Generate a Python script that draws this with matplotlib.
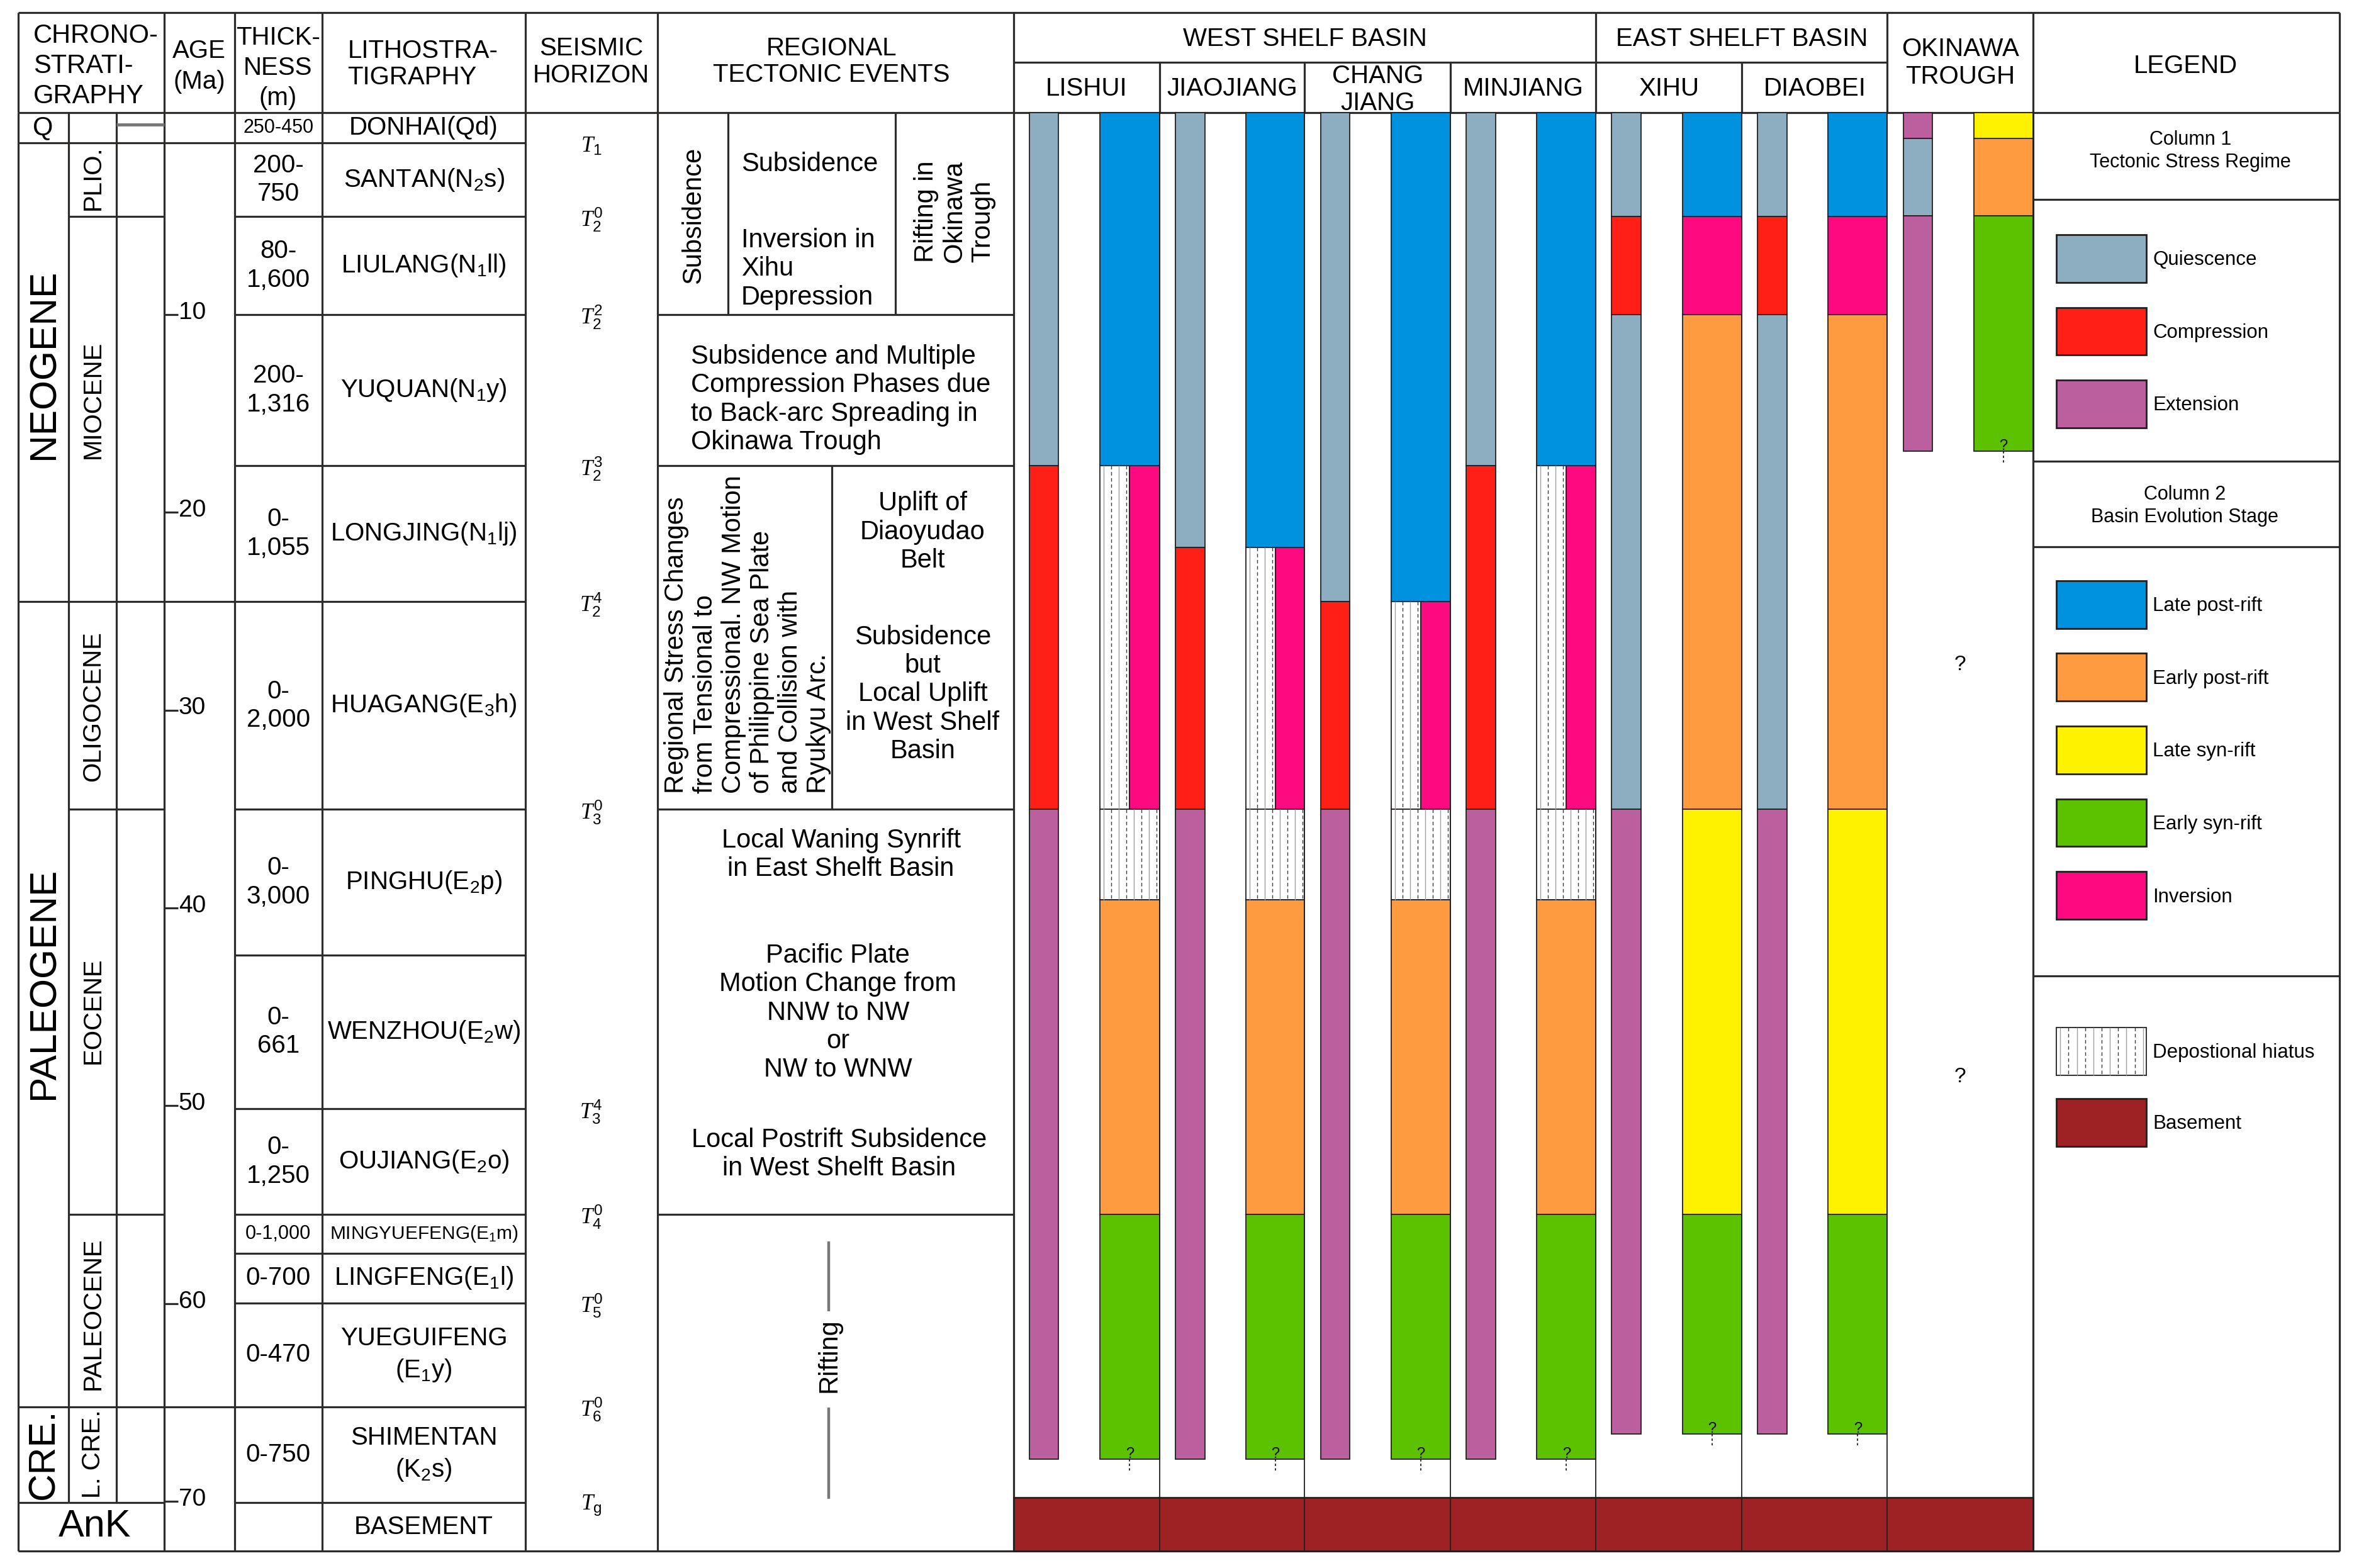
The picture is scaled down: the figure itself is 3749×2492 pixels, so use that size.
import numpy as np
import matplotlib.pyplot as plt

plt.rcParams['font.family'] = ['Liberation Sans', 'DejaVu Sans']
plt.rcParams['mathtext.fontset'] = 'custom'
plt.rcParams['mathtext.rm'] = 'Liberation Sans'
plt.rcParams['mathtext.it'] = 'Liberation Serif:italic'
plt.rcParams['mathtext.default'] = 'regular'

# ---- chart data (ages in Ma) ----
top_age = -0.2
base_age = 72.5

periods = ['Q', 'NEOGENE', 'PALEOGENE', 'CRE.']
period_tops = [-0.2, 1.33, 24.52, 65.21]
period_label_ages = [0.56, 12.5, 43.8, 67.6]

epochs = ['', 'PLIO.', 'MIOCENE', 'OLIGOCENE', 'EOCENE', 'PALEOCENE', 'L. CRE.']
epoch_tops = [-0.2, 1.33, 5.06, 24.52, 35.02, 55.48, 65.21]
epoch_label_ages = [0.56, 3.1, 14.3, 29.8, 45.2, 60.5, 67.6]

ank_top = 70.06
age_ticks = [10, 20, 30, 40, 50, 60, 70]

formations = ['DONHAI(Qd)', 'SANTAN(N$_2$s)', 'LIULANG(N$_1$ll)', 'YUQUAN(N$_1$y)',
              'LONGJING(N$_1$lj)', 'HUAGANG(E$_3$h)', 'PINGHU(E$_2$p)', 'WENZHOU(E$_2$w)',
              'OUJIANG(E$_2$o)', 'MINGYUEFENG(E$_1$m)', 'LINGFENG(E$_1$l)',
              'YUEGUIFENG\n(E$_1$y)', 'SHIMENTAN\n(K$_2$s)', 'BASEMENT']
formation_tops = [-0.2, 1.33, 5.06, 10.0, 17.64, 24.52, 35.02, 42.37, 50.14,
                  55.48, 57.45, 59.96, 65.21, 70.06]
thickness = ['250-450', '200-\n750', '80-\n1,600', '200-\n1,316', '0-\n1,055', '0-\n2,000',
             '0-\n3,000', '0-\n661', '0-\n1,250', '0-1,000', '0-700', '0-470', '0-750', '']

horizons = [r'$\mathit{T}_1$', r'$\mathit{T}_2^0$', r'$\mathit{T}_2^2$', r'$\mathit{T}_2^3$',
            r'$\mathit{T}_2^4$', r'$\mathit{T}_3^0$', r'$\mathit{T}_3^4$', r'$\mathit{T}_4^0$',
            r'$\mathit{T}_5^0$', r'$\mathit{T}_6^0$', r'$\mathit{T}_g$']
horizon_ages = [1.33, 5.06, 10.0, 17.64, 24.52, 35.02, 50.14, 55.48, 59.96, 65.21, 70.06]

tectonic_rows = [10.0, 17.64, 35.02, 55.48]

basins = ['LISHUI', 'JIAOJIANG', 'CHANG\nJIANG', 'MINJIANG', 'XIHU', 'DIAOBEI', 'OKINAWA\nTROUGH']

# column 1: tectonic stress regime  (Q quiescence, C compression, E extension)
lishui_stress = [(-0.2, 17.64, 'Q'), (17.64, 35.02, 'C'), (35.02, 67.87, 'E')]
jiaojiang_stress = [(-0.2, 21.76, 'Q'), (21.76, 35.02, 'C'), (35.02, 67.87, 'E')]
changjiang_stress = [(-0.2, 24.52, 'Q'), (24.52, 35.02, 'C'), (35.02, 67.87, 'E')]
minjiang_stress = [(-0.2, 17.64, 'Q'), (17.64, 35.02, 'C'), (35.02, 67.87, 'E')]
xihu_stress = [(-0.2, 5.06, 'Q'), (5.06, 10.0, 'C'), (10.0, 35.02, 'Q'), (35.02, 66.58, 'E')]
diaobei_stress = [(-0.2, 5.06, 'Q'), (5.06, 10.0, 'C'), (10.0, 35.02, 'Q'), (35.02, 66.58, 'E')]
okinawa_stress = [(-0.2, 1.1, 'E'), (1.1, 5.0, 'Q'), (5.0, 16.9, 'E')]

# column 2: basin evolution stage
lishui_stage = [(-0.2, 17.64, 'LPR'), (17.64, 35.02, 'HIA/INV'), (35.02, 39.58, 'HIA'),
                (39.58, 55.48, 'EPR'), (55.48, 67.87, 'ESR')]
jiaojiang_stage = [(-0.2, 21.76, 'LPR'), (21.76, 35.02, 'HIA/INV'), (35.02, 39.58, 'HIA'),
                   (39.58, 55.48, 'EPR'), (55.48, 67.87, 'ESR')]
changjiang_stage = [(-0.2, 24.52, 'LPR'), (24.52, 35.02, 'HIA/INV'), (35.02, 39.58, 'HIA'),
                    (39.58, 55.48, 'EPR'), (55.48, 67.87, 'ESR')]
minjiang_stage = [(-0.2, 17.64, 'LPR'), (17.64, 35.02, 'HIA/INV'), (35.02, 39.58, 'HIA'),
                  (39.58, 55.48, 'EPR'), (55.48, 67.87, 'ESR')]
xihu_stage = [(-0.2, 5.06, 'LPR'), (5.06, 10.0, 'INV'), (10.0, 35.02, 'EPR'),
              (35.02, 55.48, 'LSR'), (55.48, 66.58, 'ESR')]
diaobei_stage = [(-0.2, 5.06, 'LPR'), (5.06, 10.0, 'INV'), (10.0, 35.02, 'EPR'),
                 (35.02, 55.48, 'LSR'), (55.48, 66.58, 'ESR')]
okinawa_stage = [(-0.2, 1.1, 'LSR'), (1.1, 5.0, 'EPR'), (5.0, 16.9, 'ESR')]

stress_cols = [lishui_stress, jiaojiang_stress, changjiang_stress, minjiang_stress,
               xihu_stress, diaobei_stress, okinawa_stress]
stage_cols = [lishui_stage, jiaojiang_stage, changjiang_stage, minjiang_stage,
              xihu_stage, diaobei_stage, okinawa_stage]

basement_top = 69.8
okinawa_unknown_ages = [27.7, 48.55]

stress_names = ['Quiescence', 'Compression', 'Extension']
stress_codes = ['Q', 'C', 'E']
stage_names = ['Late post-rift', 'Early post-rift', 'Late syn-rift', 'Early syn-rift', 'Inversion']
stage_codes = ['LPR', 'EPR', 'LSR', 'ESR', 'INV']

colors = {'Q': '#8caec0', 'C': '#fe2016', 'E': '#bc5f9e',
          'LPR': '#0092df', 'EPR': '#fe9b40', 'LSR': '#fff200', 'ESR': '#5cc200',
          'INV': '#fe0a80', 'BASE': '#9e2224'}

# ---- layout (page units: picture width 1568) ----
W, H = 1568.0, 1042.2
Y0, K = 77.5, 13.15            # page y of 0 Ma and page units per Ma
LC = '#2e2b2b'
EDGE = '#231f20'
LW = 2.3

x_left, x_right = 12.3, 1555.0
y_top, y_head, y_mid = 8.4, 74.7, 41.5
chrono_x = [12.3, 45.5, 77.2, 109.1]
col_x = [109.1, 155.8, 214.2, 349.2, 437.0, 673.6]
basin_edges = [673.6, 770.8, 867.2, 964.0, 1060.8, 1157.7, 1254.5, 1351.4]


def ls(px, pt):
    # line spacing factor giving a baseline distance of px (page units) at pt
    return px * 2.391 / (0.885 * pt * 100 / 72)


def hiatus(axis, x0, x1, y0, y1, step=5.0):
    axis.bar(x0, y1 - y0, width=x1 - x0, bottom=y0, align='edge', color='white',
             edgecolor=EDGE, linewidth=1.3, zorder=2)
    xs = np.arange(x0 + step / 2, x1 - 1.0, step)
    for j, xv in enumerate(xs):
        if j % 2 == 0:
            axis.vlines(xv, y0, y1, color='#a0a0a0', lw=1.0, zorder=2.5)
        else:
            axis.vlines(xv, y0, y1, color='#3a3a3a', lw=1.0, linestyles=(0, (4, 3)), zorder=2.5)


fig = plt.figure(figsize=(37.49, 24.92), dpi=100)
page = fig.add_axes([0, 0, 1, 1])
page.set_xlim(0, W)
page.set_ylim(H, 0)
page.axis('off')

ax = fig.add_axes([0, 0, 1, 1])
ax.set_xlim(0, W)
ax.set_ylim((H - Y0) / K, -Y0 / K)
ax.axis('off')

# ---- header ----
page.hlines([y_top, y_head], x_left, x_right, color=LC, lw=LW)
page.hlines(y_mid, basin_edges[0], basin_edges[6], color=LC, lw=LW)
page.vlines([12.3, 109.1, 155.8, 214.2, 349.2, 437.0, 673.6, 1060.8, 1254.5, 1351.4, 1555.0],
            y_top, y_head, color=LC, lw=LW)
page.vlines([770.8, 867.2, 964.0, 1157.7], y_mid, y_head, color=LC, lw=LW)

page.text(22, 44, 'CHRONO-\nSTRATI-\nGRAPHY', ha='left', va='center', fontsize=30,
          linespacing=ls(19.5, 30))
page.text(132.5, 44.2, 'AGE\n(Ma)', ha='center', va='center', fontsize=29, linespacing=ls(20.5, 29))
page.text(184.8, 45.1, 'THICK-\nNESS\n(m)', ha='center', va='center', fontsize=29,
          linespacing=ls(19.9, 29))
page.text(231, 42.6, 'LITHOSTRA-\nTIGRAPHY', ha='left', va='center', fontsize=29,
          linespacing=ls(17.1, 29))
page.text(393, 41.2, 'SEISMIC\nHORIZON', ha='center', va='center', fontsize=29,
          linespacing=ls(17.7, 29))
page.text(552.7, 41.0, 'REGIONAL\nTECTONIC EVENTS', ha='center', va='center', fontsize=29,
          linespacing=ls(17.3, 29))
page.text((673.6 + 1060.8) / 2, 26, 'WEST SHELF BASIN', ha='center', va='center', fontsize=29)
page.text((1060.8 + 1254.5) / 2, 26, 'EAST SHELFT BASIN', ha='center', va='center', fontsize=29)
for i, name in enumerate(basins):
    xc = (basin_edges[i] + basin_edges[i + 1]) / 2
    if i == 6:
        page.text(xc, 42, name, ha='center', va='center', fontsize=29, linespacing=ls(17.9, 29))
    elif '\n' in name:
        page.text(xc, 59.6, name, ha='center', va='center', fontsize=29, linespacing=ls(17.5, 29))
    else:
        page.text(xc, 58.8, name, ha='center', va='center', fontsize=29)

# ---- table body grid ----
ax.vlines([x_left, x_right], top_age, base_age, color=LC, lw=LW)
ax.hlines(base_age, x_left, x_right, color=LC, lw=LW)
ax.vlines(chrono_x[1:3], top_age, ank_top, color=LC, lw=LW)
ax.vlines(col_x + [1351.4], top_age, base_age, color=LC, lw=LW)
ax.vlines(basin_edges[1:7], top_age, base_age, color=EDGE, lw=1.3, zorder=4)

ax.hlines(period_tops[1:] + [ank_top], chrono_x[0], chrono_x[1], color=LC, lw=LW)
ax.hlines(epoch_tops[1:] + [ank_top], chrono_x[1], chrono_x[3], color=LC, lw=LW)
ax.hlines(period_tops[1:], col_x[0], col_x[1], color=LC, lw=LW)
ax.hlines(formation_tops[1:], col_x[1], col_x[3], color=LC, lw=LW)
ax.hlines(tectonic_rows, col_x[4], col_x[5], color=LC, lw=LW)
ax.hlines(0.4, chrono_x[2], chrono_x[3], color='#777777', lw=3.5)

ax.vlines([484.0, 595.0], top_age, tectonic_rows[0], color=LC, lw=LW)
ax.vlines(553.0, tectonic_rows[1], tectonic_rows[2], color=LC, lw=LW)

# ---- chronostratigraphy ----
for name, a in zip(periods, period_label_ages):
    if name == 'Q':
        ax.text(28.5, a, name, ha='center', va='center', fontsize=30)
    else:
        ax.text(29.2, a, name, ha='center', va='center', fontsize=43.5, rotation=90)
for name, a in zip(epochs, epoch_label_ages):
    if name:
        ax.text(62.0, a, name, ha='center', va='center', fontsize=29, rotation=90)
ax.text(63.0, (ank_top + base_age) / 2, 'AnK', ha='center', va='center', fontsize=44)

# ---- age ticks ----
for t in age_ticks:
    ax.hlines(t, col_x[0], col_x[0] + 9.4, color=LC, lw=LW)
    ax.text(col_x[0] + 9.6, t - 0.1, str(t), ha='left', va='center', fontsize=28)

# ---- thickness and lithostratigraphy ----
bottoms = formation_tops[1:] + [base_age]
for name, th, a0, a1 in zip(formations, thickness, formation_tops, bottoms):
    mid = (a0 + a1) / 2
    fs_name = 21.5 if name.startswith('MINGYUE') else 29
    ax.text(281.7, mid, name, ha='center', va='center', fontsize=fs_name,
            linespacing=ls(20, 29))
    if th:
        fs_th = 22 if len(th) == 7 and '\n' not in th else 29
        ax.text(185.0, mid, th, ha='center', va='center', fontsize=fs_th,
                linespacing=ls(18.6, 29))

# ---- seismic horizons ----
for lab, a in zip(horizons, horizon_ages):
    ax.text(393.0, a + 0.15, lab, ha='center', va='center', fontsize=25)

# ---- regional tectonic events ----
LS_T = ls(18.0, 30)
notes = [
    ('Subsidence', 460.8, 5.0, 90, 'center', 'center', 'center'),
    ('Subsidence', 492.6, 2.4, 0, 'left', 'center', 'left'),
    ('Inversion in\nXihu\nDepression', 492.6, 7.7, 0, 'left', 'center', 'left'),
    ('Rifting in\nOkinawa\nTrough', 634.5, 4.8, 90, 'center', 'center', 'left'),
    ('Subsidence and Multiple\nCompression Phases due\nto Back-arc Spreading in\nOkinawa Trough',
     459.3, 14.3, 0, 'left', 'center', 'left'),
    ('Regional Stress Changes\nfrom Tensional to\nCompressional. NW Motion\n'
     'of Philippine Sea Plate\nand Collision with\nRyukyu Arc.', 497.0, 34.2, 90, 'center', 'bottom', 'left'),
    ('Uplift of\nDiaoyudao\nBelt', 613.3, 21.0, 0, 'center', 'center', 'center'),
    ('Subsidence\nbut\nLocal Uplift\nin West Shelf\nBasin', 613.3, 29.2, 0, 'center', 'center', 'center'),
    ('Local Waning Synrift\nin East Shelft Basin', 559.0, 37.3, 0, 'center', 'center', 'center'),
    ('Pacific Plate\nMotion Change from\nNNW to NW\nor\nNW to WNW', 557.0, 45.3, 0, 'center', 'center', 'center'),
    ('Local Postrift Subsidence\nin West Shelft Basin', 557.6, 52.45, 0, 'center', 'center', 'center'),
    ('Rifting', 551.0, 62.6, 90, 'center', 'center', 'center'),
]
for txt, x, a, rot, ha, va, ma in notes:
    ax.text(x, a, txt, ha=ha, va=va, ma=ma, rotation=rot, fontsize=30, linespacing=LS_T)
ax.vlines([551.0, 551.0], [56.85, 65.24], [60.4, 69.86], color='#777777', lw=3.2)

# ---- basin columns ----
for i in range(7):
    x0, x1 = basin_edges[i], basin_edges[i + 1]
    for a0, a1, code in stress_cols[i]:
        ax.bar(x0 + 10.5, a1 - a0, width=19.5, bottom=a0, align='edge', color=colors[code],
               edgecolor=EDGE, linewidth=1.3, zorder=2)
    wx0 = x0 + 57.5
    wmid = wx0 + 19.6
    for a0, a1, code in stage_cols[i]:
        if code == 'HIA':
            hiatus(ax, wx0, x1, a0, a1)
        elif code == 'HIA/INV':
            hiatus(ax, wx0, wmid, a0, a1)
            ax.bar(wmid, a1 - a0, width=x1 - wmid, bottom=a0, align='edge', color=colors['INV'],
                   edgecolor=EDGE, linewidth=1.3, zorder=2)
        else:
            ax.bar(wx0, a1 - a0, width=x1 - wx0, bottom=a0, align='edge', color=colors[code],
                   edgecolor=EDGE, linewidth=1.3, zorder=2)
    last = stage_cols[i][-1][1]
    xc = (wx0 + x1) / 2
    ax.text(xc, last + 0.1, '?', ha='center', va='bottom', fontsize=17, zorder=5)
    ax.vlines(xc, last, last + 0.6, color='#222222', lw=1.3, linestyles=(0, (2, 2)), zorder=5)

okx = (basin_edges[6] + basin_edges[7]) / 2
for a in okinawa_unknown_ages:
    ax.text(okx, a, '?', ha='center', va='center', fontsize=24)

ax.bar(basin_edges[0], base_age - basement_top, width=basin_edges[7] - basin_edges[0],
       bottom=basement_top, align='edge', color=colors['BASE'], edgecolor=EDGE, linewidth=2.0, zorder=3)

# ---- legend column ----
lx0, lx1 = 1351.4, 1555.0
page.text(1452.6, 44, 'LEGEND', ha='center', va='center', fontsize=29)
page.hlines([132.6, 306.7, 363.3, 648.7], lx0, lx1, color=LC, lw=LW)
page.text(1456.0, 100.5, 'Column 1\nTectonic Stress Regime', ha='center', va='center',
          fontsize=22, linespacing=ls(14.1, 22))
page.text(1452.0, 336.3, 'Column 2\nBasin Evolution Stage', ha='center', va='center',
          fontsize=22, linespacing=ls(14.0, 22))

sw_x, sw_w, sw_h = 1366.7, 60.1, 31.6
for name, code, top in zip(stress_names, stress_codes, [156.0, 204.3, 252.6]):
    page.bar(sw_x, sw_h, width=sw_w, bottom=top, align='edge', color=colors[code],
             edgecolor=EDGE, linewidth=2.0)
    page.text(1431.0, top + sw_h / 2 + 1, name, ha='left', va='center', fontsize=22.5)
for name, code, top in zip(stage_names, stage_codes, [386.0, 434.3, 482.7, 531.0, 579.4]):
    page.bar(sw_x, sw_h, width=sw_w, bottom=top, align='edge', color=colors[code],
             edgecolor=EDGE, linewidth=2.0)
    page.text(1431.0, top + sw_h / 2 + 1, name, ha='left', va='center', fontsize=22.5)
hiatus(page, sw_x, sw_x + sw_w, 683.0, 683.0 + sw_h, step=5.5)
page.text(1431.0, 683.0 + sw_h / 2 + 1, 'Depostional hiatus', ha='left', va='center', fontsize=22.5)
page.bar(sw_x, sw_h, width=sw_w, bottom=730.3, align='edge', color=colors['BASE'],
         edgecolor=EDGE, linewidth=2.0)
page.text(1431.0, 730.3 + sw_h / 2 + 1, 'Basement', ha='left', va='center', fontsize=22.5)

fig.savefig('out.png', dpi=100)
